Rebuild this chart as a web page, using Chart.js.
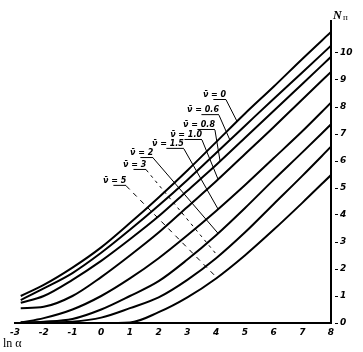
<!DOCTYPE html>
<html lang="ru">
<head>
    <title>N_п от ln α</title>
    <meta charset="utf-8">
    <script src="https://cdn.jsdelivr.net/npm/chart.js"></script>
    <style>
        html, body {
            margin: 0;
            padding: 0;
            background-color: #fff;
        }

        #wrap {
            width: 363px;
            height: 352px;
        }
    </style>
</head>

<body>
    <div id="wrap">
        <canvas id="nChart" width="363" height="352"></canvas>
    </div>

    <script>
        // ln α values where the curves were read
        const lnAlpha = [-2.8, -2, -1, 0, 1, 2, 3, 4, 5, 6, 7, 8];

        // curve parameters (top to bottom)
        const nuLabels = ['ν̄ = 0', 'ν̄ = 0.6', 'ν̄ = 0.8', 'ν̄ = 1.0', 'ν̄ = 1.5', 'ν̄ = 2', 'ν̄ = 3', 'ν̄ = 5'];

        // N_п, one array per curve
        const nu0 = [1.0, 1.41, 2.05, 2.8, 3.7, 4.65, 5.65, 6.7, 7.75, 8.75, 9.78, 10.78];
        const nu06 = [0.85, 1.28, 1.85, 2.6, 3.45, 4.35, 5.3, 6.3, 7.3, 8.3, 9.28, 10.27];
        const nu08 = [0.75, 1.0, 1.6, 2.3, 3.1, 3.95, 4.9, 5.85, 6.85, 7.85, 8.85, 9.86];
        const nu10 = [0.55, 0.6, 1.0, 1.7, 2.5, 3.35, 4.3, 5.25, 6.25, 7.25, 8.28, 9.3];
        const nu15 = [0.02, 0.18, 0.5, 1.0, 1.65, 2.4, 3.25, 4.15, 5.1, 6.1, 7.1, 8.16];
        const nu2 = [0.02, 0.05, 0.15, 0.5, 1.0, 1.55, 2.35, 3.25, 4.25, 5.3, 6.32, 7.36];
        const nu3 = [0.02, 0.02, 0.05, 0.2, 0.55, 0.95, 1.6, 2.4, 3.35, 4.4, 5.45, 6.53];
        const nu5 = [0, 0, 0, 0, 0.02, 0.4, 0.95, 1.65, 2.5, 3.45, 4.45, 5.48];
        const curves = [nu0, nu06, nu08, nu10, nu15, nu2, nu3, nu5];

        // axis ticks
        const xTicks = [-3, -2, -1, 0, 1, 2, 3, 4, 5, 6, 7, 8];
        const yTicks = [0, 1, 2, 3, 4, 5, 6, 7, 8, 9, 10];

        // where each label sits (ln α, N) and at which ln α its leader meets the curve
        const labelSpots = [
            { x: 3.54, y: 8.37, to: 4.73, dash: [] },
            { x: 2.99, y: 7.81, to: 4.48, dash: [] },
            { x: 2.85, y: 7.26, to: 4.14, dash: [] },
            { x: 2.40, y: 6.89, to: 4.07, dash: [] },
            { x: 1.77, y: 6.56, to: 4.07, dash: [] },
            { x: 1.00, y: 6.22, to: 4.07, dash: [] },
            { x: 0.76, y: 5.78, to: 4.07, dash: [3, 4] },
            { x: 0.06, y: 5.19, to: 4.03, dash: [5, 5] }
        ];

        function curveAt(values, x) {
            for (let i = 0; i < lnAlpha.length - 1; i++) {
                if (x >= lnAlpha[i] && x <= lnAlpha[i + 1]) {
                    const t = (x - lnAlpha[i]) / (lnAlpha[i + 1] - lnAlpha[i]);
                    return values[i] + t * (values[i + 1] - values[i]);
                }
            }
            return values[values.length - 1];
        }

        // labels, leaders and axis names
        const notes = {
            id: 'notes',
            afterDatasetsDraw(chart) {
                const ctx = chart.ctx;
                const xs = chart.scales.x;
                const ys = chart.scales.y;
                ctx.save();
                ctx.fillStyle = '#000';
                ctx.strokeStyle = '#000';
                ctx.textBaseline = 'alphabetic';
                ctx.font = 'italic bold 8px "DejaVu Sans"';

                labelSpots.forEach((s, i) => {
                    const px = xs.getPixelForValue(s.x);
                    const py = ys.getPixelForValue(s.y);
                    ctx.fillText(nuLabels[i], px, py);
                    const w = ctx.measureText(nuLabels[i]).width;

                    ctx.lineWidth = 1;
                    ctx.setLineDash([]);
                    ctx.beginPath();
                    ctx.moveTo(px + w * 0.45, py + 2.5);
                    ctx.lineTo(px + w, py + 2.5);
                    ctx.stroke();

                    const ex = xs.getPixelForValue(s.to);
                    const ey = ys.getPixelForValue(curveAt(curves[i], s.to));
                    ctx.setLineDash(s.dash);
                    ctx.beginPath();
                    ctx.moveTo(px + w, py + 3);
                    ctx.lineTo(ex, ey);
                    ctx.stroke();
                });
                ctx.setLineDash([]);

                // axis names
                ctx.font = '12px "Liberation Serif"';
                ctx.fillText('ln α', 3, 347);
                ctx.font = 'italic bold 12px "Liberation Serif"';
                ctx.fillText('N', 333, 19);
                ctx.font = '9px "Liberation Serif"';
                ctx.fillText('п', 343, 20);
                ctx.restore();
            }
        };

        const tickFont = { family: '"DejaVu Sans"', size: 9, style: 'italic', weight: 'bold' };

        new Chart(document.getElementById('nChart'), {
            type: 'line',
            data: {
                labels: lnAlpha,
                datasets: curves.map((c, i) => ({
                    label: nuLabels[i],
                    data: c.map((v, j) => ({ x: lnAlpha[j], y: v })),
                    borderColor: '#000',
                    borderWidth: 2,
                    pointRadius: 0,
                    cubicInterpolationMode: 'monotone',
                    fill: false
                }))
            },
            options: {
                responsive: false,
                animation: false,
                layout: { padding: { left: 15, top: 20.6, right: 0, bottom: 0 } },
                plugins: {
                    legend: { display: false },
                    tooltip: { enabled: false }
                },
                scales: {
                    x: {
                        type: 'linear',
                        min: -3,
                        max: 8,
                        afterBuildTicks: s => { s.ticks = xTicks.map(v => ({ value: v })); },
                        afterFit: s => { s.height = 29; },
                        ticks: { color: '#000', font: tickFont, padding: 4, maxRotation: 0 },
                        grid: { display: false, drawTicks: false },
                        border: { display: true, color: '#000', width: 2 }
                    },
                    y: {
                        position: 'right',
                        min: 0,
                        max: 11.2,
                        afterBuildTicks: s => { s.ticks = yTicks.map(v => ({ value: v })); },
                        afterFit: s => { s.width = 32; },
                        ticks: { color: '#000', font: tickFont, padding: 2 },
                        grid: {
                            drawOnChartArea: false,
                            drawTicks: true,
                            tickLength: 7,
                            tickColor: '#000',
                            tickWidth: 1,
                            tickBorderDash: [0, 3, 3]
                        },
                        border: { display: true, color: '#000', width: 2 }
                    }
                }
            },
            plugins: [notes]
        });
    </script>
</body>

</html>
